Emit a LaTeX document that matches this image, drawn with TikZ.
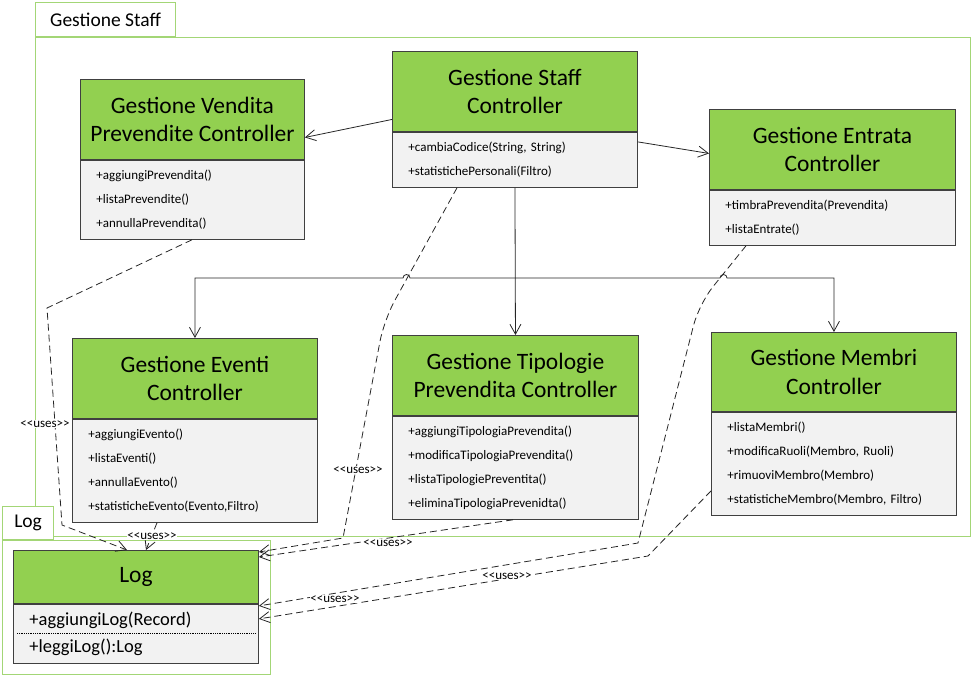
\documentclass[tikz,border=0pt]{standalone}
\usepackage{fontspec}
\setmainfont{Carlito}
\usetikzlibrary{arrows.meta,positioning}
\definecolor{headgreen}{RGB}{146,208,80}
\definecolor{bodygrey}{RGB}{242,242,242}
\definecolor{framegreen}{RGB}{163,214,118}
\tikzset{
    >={Straight Barb[length=10pt,width=11pt]},
    every picture/.style={line width=0.8pt},
    classhead/.style={draw=black!75,fill=headgreen,line width=0.9pt,align=center,inner sep=0pt,anchor=north west,font=\fontsize{23.5}{28.5}\selectfont},
    classbody/.style={draw=black!75,fill=bodygrey,line width=0.9pt,align=left,inner xsep=16pt,inner ysep=0pt,font=\fontsize{13}{24}\selectfont},
    pkgtab/.style={draw=framegreen,fill=white,line width=1.2pt,inner sep=0pt,anchor=north west,font=\fontsize{19.5}{22}\selectfont},
    pkgframe/.style={draw=framegreen,line width=1.2pt,inner sep=0pt,anchor=north west},
    assoc/.style={->,draw=black!85},
    uses/.style={->,dash pattern=on 7pt off 4pt,draw=black!85},
    useslabel/.style={fill=white,inner sep=0.5pt,font=\fontsize{13}{14}\selectfont}
}

\begin{document}
\begin{tikzpicture}[x=1pt,y=-1pt]
    \useasboundingbox (0,0) rectangle (973,674);

    % Package frames
    \node[pkgtab,minimum width=140pt,minimum height=34pt] (gstab) at (35,2) {Gestione Staff};
    \node[pkgframe,minimum width=935pt,minimum height=499pt] (gsframe) at (gstab.south west) {};
    \node[pkgtab,minimum width=51pt,minimum height=33pt] (logtab) at (2,506) {Log};
    \node[pkgframe,minimum width=268pt,minimum height=134pt] (logframe) at (logtab.south west) {};

    % Controllers
    \node[classhead,minimum width=224pt,minimum height=80pt] (gvpc) at (80,79) {Gestione Vendita\\Prevendite Controller};
    \node[classbody,text width=192pt,minimum height=79pt,below=0pt of gvpc] (gvpcb) {+aggiungiPrevendita()\\+listaPrevendite()\\+annullaPrevendita()};

    \node[classhead,minimum width=245pt,minimum height=80pt] (gsc) at (392,51) {Gestione Staff\\Controller};
    \node[classbody,text width=213pt,minimum height=55pt,below=0pt of gsc] (gscb) {+cambiaCodice(String, String)\\+statistichePersonali(Filtro)};

    \node[classhead,minimum width=246pt,minimum height=80pt] (gen) at (709,109) {Gestione Entrata\\Controller};
    \node[classbody,text width=214pt,minimum height=55pt,below=0pt of gen] (genb) {+timbraPrevendita(Prevendita)\\+listaEntrate()};

    \node[classhead,minimum width=245pt,minimum height=80pt] (gev) at (72,338) {Gestione Eventi\\Controller};
    \node[classbody,text width=213pt,minimum height=103pt,below=0pt of gev] (gevb) {+aggiungiEvento()\\+listaEventi()\\+annullaEvento()\\+statisticheEvento(Evento,Filtro)};

    \node[classhead,minimum width=246pt,minimum height=80pt] (gtp) at (392,335) {Gestione Tipologie\\Prevendita Controller};
    \node[classbody,text width=214pt,minimum height=103pt,below=0pt of gtp] (gtpb) {+aggiungiTipologiaPrevendita()\\+modificaTipologiaPrevendita()\\+listaTipologiePreventita()\\+eliminaTipologiaPrevenidta()};

    \node[classhead,minimum width=245pt,minimum height=79pt] (gmc) at (711,332) {Gestione Membri\\Controller};
    \node[classbody,text width=213pt,minimum height=103pt,below=0pt of gmc] (gmcb) {+listaMembri()\\+modificaRuoli(Membro, Ruoli)\\+rimuoviMembro(Membro)\\+statisticheMembro(Membro, Filtro)};

    % Log class
    \node[classhead,minimum width=245pt,minimum height=53pt] (logh) at (13,550) {Log};
    \node[classbody,text width=213pt,minimum height=59pt,below=0pt of logh,font=\fontsize{18.5}{27}\selectfont] (logb) {+aggiungiLog(Record)\\+leggiLog():Log};
    \draw[densely dotted] ([xshift=4pt]logb.west) -- ([xshift=-3pt]logb.east);

    % Associations
    \draw[assoc] ([yshift=-28pt]gsc.west) -- ([yshift=-18pt]gvpc.east);
    \draw[assoc] ([yshift=-10pt]gscb.north east) -- ([yshift=-4pt]gen.west);
    \draw[assoc] (gscb.south) -- (gtp.north);
    \coordinate (bus) at (515,278);
    \draw[assoc] (bus) -- (410,278) arc[start angle=0,end angle=-180,radius=3.5] -- (gev.north |- bus) -- (gev.north);
    \draw[assoc] (bus) -- (720,278) arc[start angle=180,end angle=360,radius=3.5] -- (gmc.north |- bus) -- (gmc.north);

    % Uses
    \draw[uses] ([xshift=112pt]gvpcb.south west) -- (47,308) -- (62,525) -- ([xshift=114pt]logh.north west);
    \draw[uses] ([xshift=85pt]gevb.south west) -- ([xshift=133pt]logh.north west);
    \draw[uses,rounded corners=22pt] ([xshift=65pt]gscb.south west) -- (384,320) [sharp corners] -- (343,538) -- ([yshift=-2pt]logh.north east);
    \draw[uses] ([xshift=121pt]gtpb.south west) -- ([yshift=-7pt]logh.north east);
    \draw[uses,rounded corners=22pt] ([xshift=37pt]genb.south west) -- (699,304) [sharp corners] -- (638,543) -- ([yshift=-2pt]logb.north east);
    \draw[uses] ([yshift=-79pt]gmcb.north west) -- (648,556) -- ([yshift=-15pt]logb.north east);

    \node[useslabel] (u1) at (45,424) {<{}<uses>{}>};
    \node[useslabel] (u2) at (152,536) {<{}<uses>{}>};
    \node[useslabel] (u3) at (358,470) {<{}<uses>{}>};
    \node[useslabel] (u4) at (388,543) {<{}<uses>{}>};
    \node[useslabel] (u5) at (335,599) {<{}<uses>{}>};
    \node[useslabel] (u6) at (507,576) {<{}<uses>{}>};
\end{tikzpicture}
\end{document}
